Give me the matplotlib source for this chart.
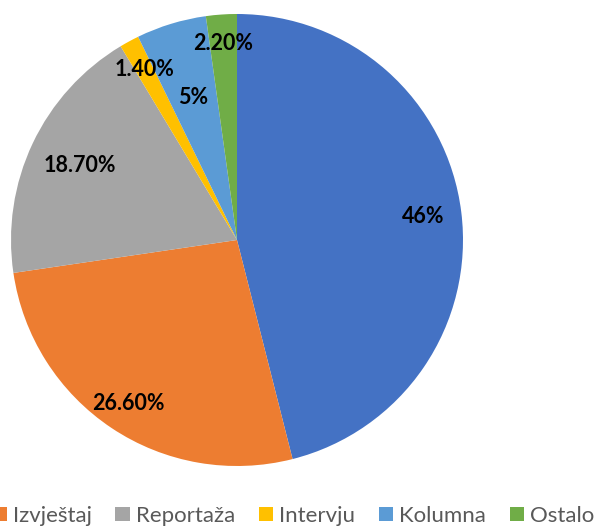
import matplotlib.pyplot as plt
import numpy as np

# udio novinarskih žanrova
kategorije = ["Vijest", "Izvještaj", "Reportaža", "Intervju", "Kolumna", "Ostalo"]
udjeli = [46.0, 26.6, 18.7, 1.4, 5.0, 2.2]
oznake = ["46%", "26.60%", "18.70%", "1.40%", "5%", "2.20%"]
boje = ["#4472C4", "#ED7D31", "#A5A5A5", "#FFC000", "#5B9BD5", "#70AD47"]

# udaljenost oznake od središta (u polumjerima), kao u originalu
udaljenost = [0.83, 0.87, 0.77, 0.86, 0.66, 0.87]

fig = plt.figure(figsize=(5.94, 5.27), dpi=100, facecolor="white")
ax = fig.add_axes([11 / 594, 61 / 527, 452 / 594, 452 / 527])

wedges, _ = ax.pie(udjeli, colors=boje, startangle=90, counterclock=False,
                   radius=1, wedgeprops=dict(linewidth=0))
ax.set_xlim(-1, 1)
ax.set_ylim(-1, 1)

for w, txt, d in zip(wedges, oznake, udaljenost):
    kut = np.deg2rad((w.theta1 + w.theta2) / 2)
    ax.text(d * np.cos(kut), d * np.sin(kut), txt, ha="center", va="center",
            fontsize=15.5, fontweight="bold", family=["Lato", "DejaVu Sans"], color="black")

# u originalu je legenda odrezana lijevo, prva stavka (Vijest) se ne vidi
fig.legend(wedges[1:], kategorije[1:], loc="lower right", bbox_to_anchor=(1.0, 0.002),
           ncol=5, frameon=False, borderaxespad=0, borderpad=0,
           handlelength=0.64, handleheight=0.64, handletextpad=0.27, columnspacing=1.07,
           prop={"family": ["Lato", "DejaVu Sans"], "size": 16}, labelcolor="#595959")

fig.savefig("out.png", dpi=100, facecolor="white")
